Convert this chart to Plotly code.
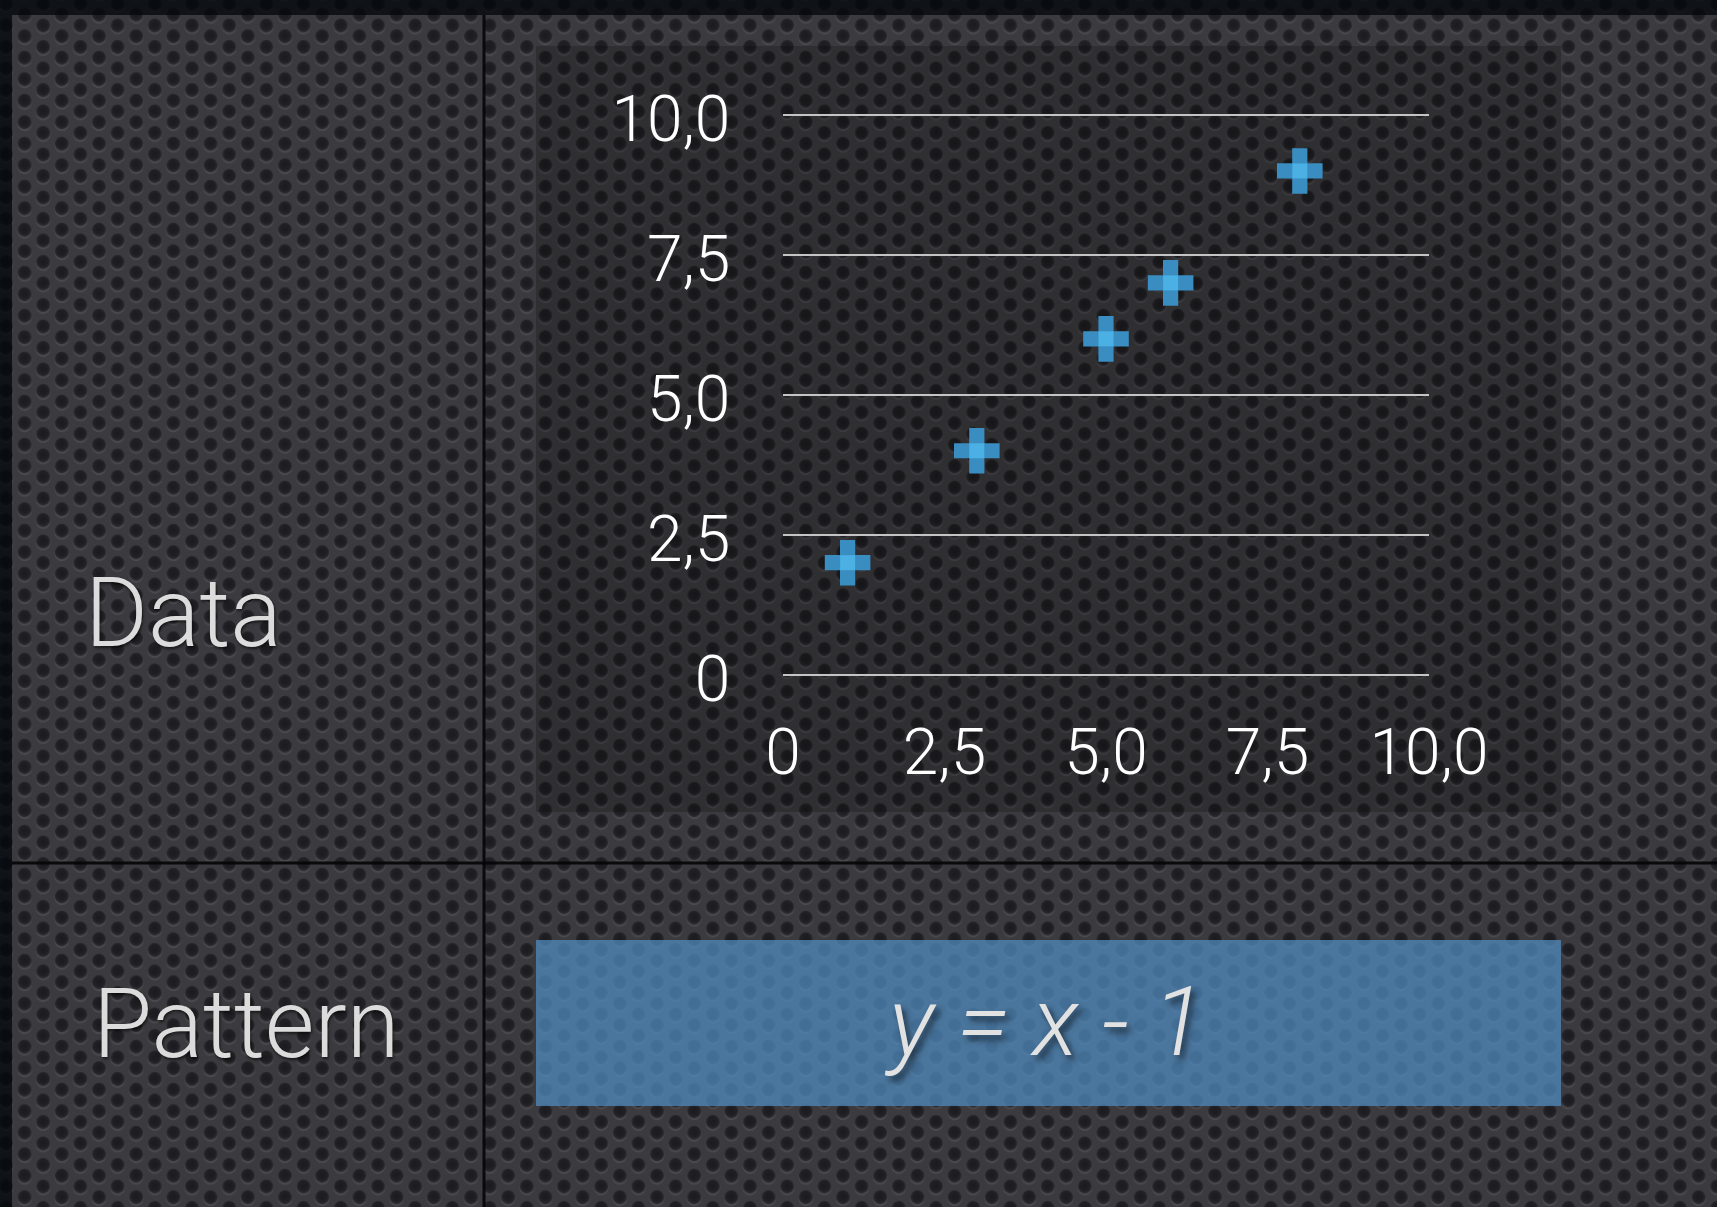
import base64
import plotly.graph_objects as go

# ---- data ----
x_values = [1, 3, 5, 6, 8]
y_values = [2, 4, 6, 7, 9]
x_tickvals = [0, 2.5, 5.0, 7.5, 10.0]
x_ticktext = ["0", "2,5", "5,0", "7,5", "10,0"]
y_tickvals = [0, 2.5, 5.0, 7.5, 10.0]
y_ticktext = ["0", "2,5", "5,0", "7,5", "10,0"]
row_labels = ["Data", "Pattern"]
pattern_text = "y = x - 1"

W, H = 1717, 1207


def perforated_svg(w, h):
    tw, th = 37.2, 21.5
    dots = [(0, 0), (tw, 0), (0, th), (tw, th), (tw / 2, th / 2)]
    circles = ""
    for cx, cy in dots:
        circles += f'<circle cx="{cx}" cy="{cy + 1.8}" r="7.3" fill="#49494e"/>'
    for cx, cy in dots:
        circles += f'<circle cx="{cx}" cy="{cy}" r="7.0" fill="url(#d)"/>'
    svg = (
        f'<svg xmlns="http://www.w3.org/2000/svg" width="{w}" height="{h}" viewBox="0 0 {w} {h}">'
        '<defs>'
        '<radialGradient id="d" cx="50%" cy="45%" r="50%">'
        '<stop offset="0%" stop-color="#1b1a1e"/><stop offset="70%" stop-color="#201f23"/>'
        '<stop offset="100%" stop-color="#2c2c30"/></radialGradient>'
        f'<pattern id="p" x="6" y="4" width="{tw}" height="{th}" patternUnits="userSpaceOnUse">'
        f'<rect width="{tw}" height="{th}" fill="#3b3b3f"/>{circles}</pattern>'
        '</defs>'
        f'<rect width="{w}" height="{h}" fill="url(#p)"/>'
        '</svg>'
    )
    return "data:image/svg+xml;base64," + base64.b64encode(svg.encode()).decode()


fig = go.Figure()

# crosses
fig.add_trace(go.Scatter(
    x=x_values, y=y_values, mode="markers",
    marker=dict(symbol="cross", size=38, color="#3a8dc0", line=dict(width=0)),
    hoverinfo="skip", showlegend=False, cliponaxis=False,
))
fig.add_trace(go.Scatter(
    x=x_values, y=y_values, mode="markers",
    marker=dict(symbol="square", size=15, color="#4bb0e3", line=dict(width=0)),
    hoverinfo="skip", showlegend=False, cliponaxis=False,
))

font_family = "Roboto, Lato, 'Liberation Sans', sans-serif"

# y range slightly padded so the 0 and 10 gridlines are drawn
ypad = 0.05
y0px, y10px = 674.6, 115.0
ppu = (y0px - y10px) / 10.0
ybot = y0px + ypad * ppu
ytop = y10px - ypad * ppu

tick_font = dict(family=font_family, size=64, color="#ffffff", weight=300)

fig.update_layout(
    template="none",
    width=W, height=H,
    margin=dict(l=0, r=0, t=0, b=0, pad=0, autoexpand=False),
    paper_bgcolor="#333337",
    plot_bgcolor="rgba(0,0,0,0)",
    showlegend=False,
    xaxis=dict(
        domain=[783 / W, 1429 / W], range=[0, 10], automargin=False,
        tickvals=x_tickvals, ticktext=x_ticktext,
        showgrid=False, zeroline=False, showline=False,
        ticks="outside", ticklen=1, tickcolor="rgba(0,0,0,0)",
        ticklabelstandoff=18,
        tickfont=tick_font,
        fixedrange=True,
    ),
    yaxis=dict(
        domain=[(H - ybot) / H, (H - ytop) / H], range=[-ypad, 10 + ypad],
        automargin=False,
        tickvals=y_tickvals, ticktext=y_ticktext,
        showgrid=True, gridcolor="#c4c4c4", gridwidth=2.2,
        zeroline=False, showline=False,
        ticks="outside", ticklen=1, tickcolor="rgba(0,0,0,0)",
        ticklabelstandoff=38, ticklabelshift=4,
        tickfont=tick_font,
        fixedrange=True,
    ),
    images=[dict(
        source=perforated_svg(W, H), xref="paper", yref="paper",
        x=0, y=1, sizex=1, sizey=1, xanchor="left", yanchor="top",
        sizing="stretch", layer="below",
    )],
)


def px_rect(x0, y0, x1, y1, fill, layer="below"):
    fig.add_shape(type="rect", xref="paper", yref="paper",
                  x0=x0 / W, x1=x1 / W, y0=1 - y1 / H, y1=1 - y0 / H,
                  fillcolor=fill, line=dict(width=0), layer=layer)


# outer dark border (top and left)
px_rect(0, 0, W, 15, "rgba(3,8,12,0.78)")
px_rect(0, 15, 12, H, "rgba(3,8,12,0.78)")
# chart panel (darker)
px_rect(536, 46, 1561, 812, "rgba(0,0,0,0.20)")
# pattern box (blue)
px_rect(536, 940, 1561, 1106, "rgba(79,138,189,0.74)")
# dividers
px_rect(482.5, 15, 485.5, H, "rgba(5,5,8,0.9)")
px_rect(12, 861.5, W, 864.5, "rgba(5,5,8,0.9)")

label_font = dict(family=font_family, size=96, color="#dcdcdc", weight=300,
                  shadow="1px 2px 3px rgba(0,0,0,0.6)")
fig.add_annotation(text=row_labels[0], xref="paper", yref="paper",
                   x=183 / W, y=1 - 613 / H, xanchor="center", yanchor="middle",
                   showarrow=False, font=label_font)
fig.add_annotation(text=row_labels[1], xref="paper", yref="paper",
                   x=246 / W, y=1 - 1024 / H, xanchor="center", yanchor="middle",
                   showarrow=False, font=label_font)
fig.add_annotation(text=pattern_text, xref="paper", yref="paper",
                   x=1044 / W, y=1 - 1022 / H, xanchor="center", yanchor="middle",
                   showarrow=False,
                   font=dict(family=font_family, size=97, color="#e2e2e2", weight=300,
                             style="italic", shadow="4px 5px 6px rgba(0,0,0,0.55)"))

fig.write_html("out.html", config={"displayModeBar": False})
